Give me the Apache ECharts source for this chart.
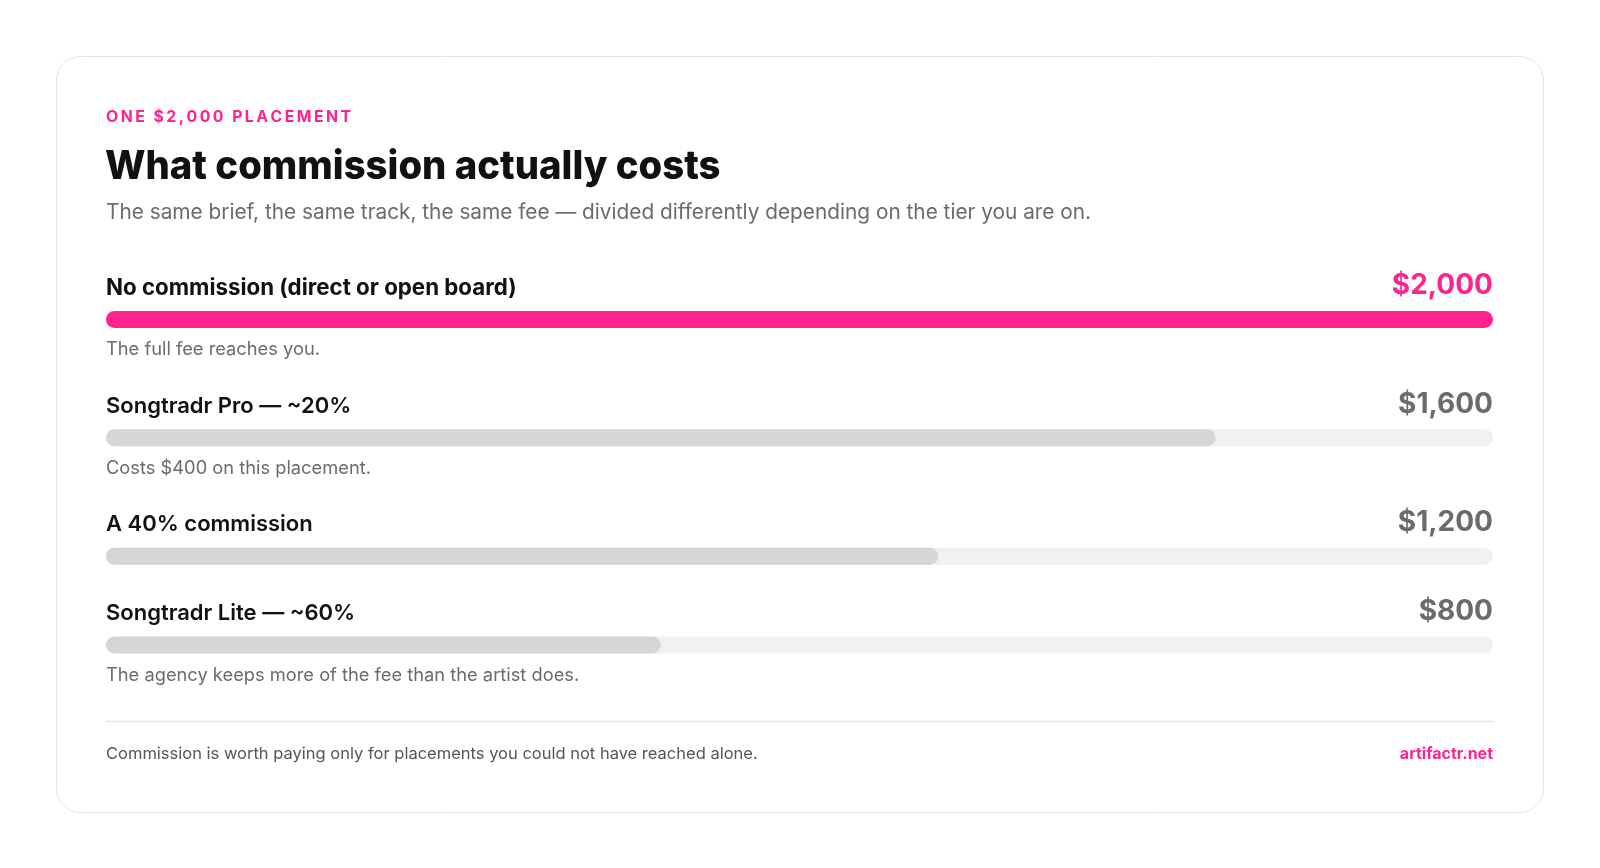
<!DOCTYPE html>
<html>
<head>
<meta charset="utf-8">
<script src="https://cdn.jsdelivr.net/npm/echarts@6/dist/echarts.min.js"></script>
<style>
html,body{margin:0;padding:0;background:#fff;}
#chart{width:1600px;height:868px;}
</style>
</head>
<body>
<div id="chart"></div>
<script>
// ---- data ----
const eyebrow = 'ONE $2,000 PLACEMENT';
const title = 'What commission actually costs';
const subtitle = 'The same brief, the same track, the same fee — divided differently depending on the tier you are on.';
const categories = ['No commission (direct or open board)', 'Songtradr Pro — ~20%', 'A 40% commission', 'Songtradr Lite — ~60%'];
const payouts = [2000, 1600, 1200, 800];
const notes = ['The full fee reaches you.', 'Costs $400 on this placement.', '', 'The agency keeps more of the fee than the artist does.'];
const highlight = [true, false, false, false];
const fee = 2000;
const footnote = 'Commission is worth paying only for placements you could not have reached alone.';
const source = 'artifactr.net';

// ---- style ----
const PINK = '#ff2390';
const FONT = 'Inter, "Noto Sans", sans-serif';
const L = 106, R = 1493, BAR_H = 17;

const chart = echarts.init(document.getElementById('chart'), null, {renderer: 'canvas'});

const grids = [], xAxes = [], yAxes = [], series = [], graphics = [];

// tracked (letter-spaced) eyebrow using thin spaces
const tracked = Array.from(eyebrow).join('\u2009');

graphics.push({
  type: 'rect', z: -10,
  shape: {x: 56.5, y: 56.5, width: 1487, height: 756, r: 24},
  style: {fill: '#fff', stroke: '#e4e4e4', lineWidth: 1}
});
graphics.push({type: 'text', x: L, y: 117, style: {text: tracked, font: 'bold 15.8px ' + FONT, fill: PINK, textVerticalAlign: 'middle'}});
graphics.push({type: 'text', x: L - 1, y: 167, scaleX: 0.957, style: {text: title, font: '800 40px ' + FONT, fill: '#111', textVerticalAlign: 'middle'}});
graphics.push({type: 'text', x: L, y: 213, style: {text: subtitle, font: '20.8px ' + FONT, fill: '#6b6b6b', textVerticalAlign: 'middle'}});

let barCenter = 319.4;
categories.forEach((cat, i) => {
  const labelY = barCenter - 31.5;
  graphics.push({type: 'text', x: L, y: labelY, style: {text: cat, font: (highlight[i] ? '700 22.3px ' : '600 22px ') + FONT, fill: '#111', textVerticalAlign: 'middle'}});
  graphics.push({type: 'text', x: R, y: labelY - 2, style: {text: '$' + payouts[i].toLocaleString('en-US'), font: 'bold 28px ' + FONT, fill: highlight[i] ? PINK : '#6b6b6b', textAlign: 'right', textVerticalAlign: 'middle'}});
  grids.push({left: L, right: 1600 - R, top: barCenter - BAR_H / 2, height: BAR_H, containLabel: false});
  xAxes.push({type: 'value', gridIndex: i, min: 0, max: fee, show: false});
  yAxes.push({type: 'category', gridIndex: i, data: [cat], show: false});
  series.push({
    type: 'bar', xAxisIndex: i, yAxisIndex: i, data: [payouts[i]], barWidth: BAR_H,
    showBackground: true,
    backgroundStyle: {color: '#f1f1f1', borderRadius: BAR_H / 2},
    itemStyle: {color: highlight[i] ? PINK : '#d6d6d6', borderRadius: BAR_H / 2},
    silent: true
  });
  if (notes[i]) {
    graphics.push({type: 'text', x: L, y: barCenter + 30.5, style: {text: notes[i], font: '18.3px ' + FONT, fill: '#6b6b6b', textVerticalAlign: 'middle'}});
    barCenter += 118.4;
  } else {
    barCenter += 88.8;
  }
});

graphics.push({type: 'line', shape: {x1: L, y1: 721.5, x2: R, y2: 721.5}, style: {stroke: '#e6e6e6', lineWidth: 1.5}});
graphics.push({type: 'text', x: L, y: 754, style: {text: footnote, font: '16.5px ' + FONT, fill: '#555', textVerticalAlign: 'middle'}});
graphics.push({type: 'text', x: R, y: 754, style: {text: source, font: 'bold 16px ' + FONT, fill: PINK, textAlign: 'right', textVerticalAlign: 'middle'}});

chart.setOption({
  animation: false,
  backgroundColor: '#fff',
  grid: grids, xAxis: xAxes, yAxis: yAxes, series: series,
  graphic: graphics
});
</script>
</body>
</html>
